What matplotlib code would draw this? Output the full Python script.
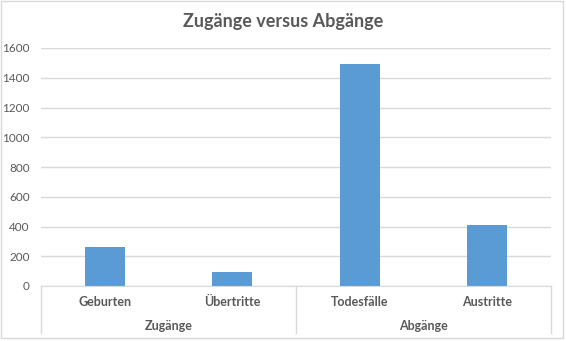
import matplotlib
matplotlib.use("Agg")
import matplotlib.pyplot as plt
from matplotlib.lines import Line2D
from matplotlib.patches import Rectangle

categories = ["Geburten", "Übertritte", "Todesfälle", "Austritte"]
groups = ["Zugänge", "Abgänge"]
group_sizes = [2, 2]
values = [262, 94, 1492, 410]
yticks = [0, 200, 400, 600, 800, 1000, 1200, 1400, 1600]

plt.rcParams['font.family'] = ['Lato', 'DejaVu Sans']
txt = '#595959'
grid = '#D9D9D9'
bar_c = '#5B9BD5'

fig = plt.figure(figsize=(5.66, 3.41), dpi=100)
fig.patches.append(Rectangle((0.5/566, 3/341), 562/566, 337/341, transform=fig.transFigure,
                             fill=False, edgecolor=grid, linewidth=1))
ax = fig.add_axes([41/566, 1 - 286/341, 510/566, 238/341])

x = list(range(len(categories)))
ax.bar(x, values, width=0.31, color=bar_c, zorder=3)
ax.set_xlim(-0.5, len(categories) - 0.5)
ax.set_ylim(0, 1600)
ax.set_yticks(yticks)
ax.set_yticklabels([str(v) for v in yticks], color=txt, fontsize=8.5)
ax.yaxis.grid(True, color=grid, linewidth=1, zorder=0)
ax.tick_params(axis='y', length=0, pad=8)
ax.tick_params(axis='x', length=0, pad=7)
ax.set_xticks(x)
ax.set_xticklabels(categories, color=txt, fontsize=9, fontweight='bold')
for s in ['top', 'right', 'left']:
    ax.spines[s].set_visible(False)
ax.spines['bottom'].set_color(grid)
ax.spines['bottom'].set_zorder(4)

# group separators and labels
trans = ax.get_xaxis_transform()
bottom = -47 / 238
start = -0.5
ax.add_line(Line2D([start, start], [0, bottom], transform=trans, color=grid, lw=1, clip_on=False))
for g, n in zip(groups, group_sizes):
    end = start + n
    ax.add_line(Line2D([end, end], [0, bottom], transform=trans, color=grid, lw=1, clip_on=False))
    ax.text((start + end) / 2, -40 / 238, g, transform=trans, ha='center', va='center',
            color=txt, fontsize=9, fontweight='bold')
    start = end

fig.text(0.5, 1 - 22/341, "Zugänge versus Abgänge", ha='center', va='center',
         fontsize=13, fontweight='bold', color=txt)

fig.savefig("out.png", dpi=100)
